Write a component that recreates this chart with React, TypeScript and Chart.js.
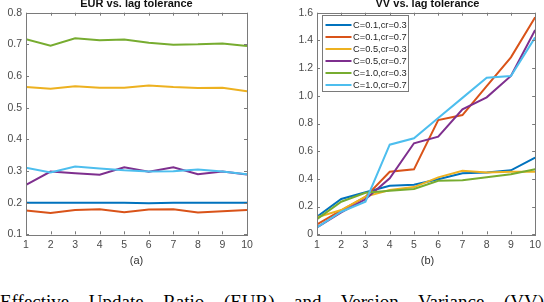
import React, { useEffect, useRef } from 'react';
import { Chart, registerables } from 'chart.js';

Chart.register(...registerables);

// ---------- data ----------
const lagTolerance = [1, 2, 3, 4, 5, 6, 7, 8, 9, 10];
const seriesLabels = ['C=0.1,cr=0.3', 'C=0.1,cr=0.7', 'C=0.5,cr=0.3', 'C=0.5,cr=0.7', 'C=1.0,cr=0.3', 'C=1.0,cr=0.7'];
const seriesColors = ['#0072BD', '#D95319', '#EDB120', '#7E2F8E', '#77AC30', '#4DBEEE'];

// EUR vs. lag tolerance
const eurC01cr03 = [0.2, 0.2, 0.2, 0.2, 0.2, 0.198, 0.2, 0.2, 0.2, 0.2];
const eurC01cr07 = [0.175, 0.167, 0.177, 0.179, 0.17, 0.178, 0.179, 0.169, 0.173, 0.177];
const eurC05cr03 = [0.565, 0.56, 0.568, 0.563, 0.563, 0.57, 0.565, 0.562, 0.563, 0.552];
const eurC05cr07 = [0.256, 0.298, 0.293, 0.288, 0.312, 0.298, 0.312, 0.29, 0.298, 0.289];
const eurC10cr03 = [0.716, 0.696, 0.719, 0.713, 0.715, 0.705, 0.699, 0.7, 0.703, 0.695];
const eurC10cr07 = [0.31, 0.295, 0.314, 0.308, 0.302, 0.298, 0.299, 0.305, 0.298, 0.29];

// VV vs. lag tolerance
const vvC01cr03 = [0.127, 0.255, 0.303, 0.351, 0.358, 0.397, 0.44, 0.447, 0.462, 0.553];
const vvC01cr07 = [0.072, 0.172, 0.27, 0.452, 0.469, 0.825, 0.861, 1.07, 1.278, 1.567];
const vvC05cr03 = [0.122, 0.175, 0.272, 0.32, 0.341, 0.411, 0.459, 0.447, 0.452, 0.452];
const vvC05cr07 = [0.05, 0.158, 0.253, 0.404, 0.657, 0.705, 0.902, 0.989, 1.143, 1.475];
const vvC10cr03 = [0.11, 0.235, 0.3, 0.315, 0.327, 0.387, 0.39, 0.412, 0.433, 0.469];
const vvC10cr07 = [0.05, 0.163, 0.235, 0.647, 0.693, 0.84, 0.985, 1.131, 1.143, 1.422];

const eurSeries = [eurC01cr03, eurC01cr07, eurC05cr03, eurC05cr07, eurC10cr03, eurC10cr07];
const vvSeries = [vvC01cr03, vvC01cr07, vvC05cr03, vvC05cr07, vvC10cr03, vvC10cr07];

const eurYRange = [0.1, 0.8];
const eurYStep = 0.1;
const vvYRange = [0, 1.6];
const vvYStep = 0.2;

const eurTitle = 'EUR vs. lag tolerance';
const vvTitle = 'VV vs. lag tolerance';
const captionText = 'Effective Update Ratio (EUR) and Version Variance (VV)';

// ---------- style ----------
const FONT = '"Liberation Sans", Arial, Helvetica, sans-serif';
const AXIS_COLOR = '#7a7a7a';
const LABEL_COLOR = '#4a4a4a';

const boxPlugin = {
  id: 'matlabBox',
  afterDatasetsDraw(chart: any) {
    const { ctx, chartArea } = chart;
    const { left, right, top, bottom } = chartArea;
    const tl = 3;
    ctx.save();
    ctx.strokeStyle = AXIS_COLOR;
    ctx.lineWidth = 1;
    ctx.beginPath();
    const xs = chart.scales.x;
    xs.ticks.forEach((t: any) => {
      const p = Math.round(xs.getPixelForValue(t.value)) + 0.5;
      ctx.moveTo(p, bottom);
      ctx.lineTo(p, bottom - tl);
      ctx.moveTo(p, top);
      ctx.lineTo(p, top + tl);
    });
    const ys = chart.scales.y;
    ys.ticks.forEach((t: any) => {
      const p = Math.round(ys.getPixelForValue(t.value)) + 0.5;
      ctx.moveTo(left, p);
      ctx.lineTo(left + tl, p);
      ctx.moveTo(right, p);
      ctx.lineTo(right - tl, p);
    });
    ctx.stroke();
    ctx.strokeRect(Math.round(left) + 0.5, Math.round(top) + 0.5, Math.round(right - left), Math.round(bottom - top));
    ctx.restore();
  },
};

const legendPlugin = {
  id: 'matlabLegend',
  afterDraw(chart: any) {
    if (!chart.options.plugins.matlabLegend?.show) return;
    const { ctx, chartArea } = chart;
    const x0 = Math.round(chartArea.left + 5) + 0.5;
    const y0 = Math.round(chartArea.top + 2) + 0.5;
    const w = 86;
    const rowH = 12;
    const ds = chart.data.datasets;
    const h = ds.length * rowH + 4;
    ctx.save();
    ctx.fillStyle = '#ffffff';
    ctx.fillRect(x0, y0, w, h);
    ctx.strokeStyle = AXIS_COLOR;
    ctx.lineWidth = 1;
    ctx.strokeRect(x0, y0, w, h);
    ctx.font = `9.3px ${FONT}`;
    ctx.textBaseline = 'middle';
    ctx.textAlign = 'left';
    ds.forEach((d: any, i: number) => {
      const cy = y0 + 9.5 + i * rowH;
      ctx.strokeStyle = d.borderColor;
      ctx.lineWidth = 2;
      ctx.beginPath();
      ctx.moveTo(x0 + 3, cy);
      ctx.lineTo(x0 + 29, cy);
      ctx.stroke();
      ctx.fillStyle = '#262626';
      ctx.fillText(d.label, x0 + 30.5, cy + 0.5);
    });
    ctx.restore();
  },
};

function makeConfig(series: number[][], yRange: number[], yStep: number, yAxisWidth: number, padRight: number, showLegend: boolean): any {
  return {
    type: 'line',
    data: {
      datasets: series.map((vals, i) => ({
        label: seriesLabels[i],
        data: vals.map((v, j) => ({ x: lagTolerance[j], y: v })),
        borderColor: seriesColors[i],
        backgroundColor: seriesColors[i],
        borderWidth: 2,
        pointRadius: 0,
        tension: 0,
        fill: false,
        order: series.length - i,
      })),
    },
    options: {
      animation: false,
      responsive: false,
      devicePixelRatio: 1,
      layout: { padding: { top: 12.7, right: padRight, left: 0, bottom: 0 } },
      plugins: {
        legend: { display: false },
        tooltip: { enabled: false },
        title: { display: false },
        matlabLegend: { show: showLegend },
      },
      scales: {
        x: {
          type: 'linear',
          min: lagTolerance[0],
          max: lagTolerance[lagTolerance.length - 1],
          grid: { display: false, drawTicks: false },
          border: { display: false },
          ticks: { stepSize: 1, color: LABEL_COLOR, font: { family: FONT, size: 10.5 }, padding: 5, maxRotation: 0 },
          afterFit: (s: any) => { s.height = 27.7; },
        },
        y: {
          type: 'linear',
          min: yRange[0],
          max: yRange[1],
          grid: { display: false, drawTicks: false },
          border: { display: false },
          ticks: { stepSize: yStep, color: LABEL_COLOR, font: { family: FONT, size: 10.5 }, padding: 4 },
          afterFit: (s: any) => { s.width = yAxisWidth; },
        },
      },
    },
    plugins: [boxPlugin, legendPlugin],
  };
}

function ChartCanvas(props: { config: () => any; left: number; width: number; height: number }) {
  const ref = useRef<HTMLCanvasElement | null>(null);
  useEffect(() => {
    if (!ref.current) return;
    const chart = new Chart(ref.current, props.config());
    return () => chart.destroy();
  }, []);
  return (
    <canvas
      ref={ref}
      width={props.width}
      height={props.height}
      style={{ position: 'absolute', left: props.left, top: 0, width: props.width, height: props.height }}
    />
  );
}

const textBase: React.CSSProperties = {
  position: 'absolute',
  fontFamily: FONT,
  textAlign: 'center',
  whiteSpace: 'nowrap',
  lineHeight: 'normal',
};

export default function App() {
  return (
    <div style={{ position: 'absolute', left: 0, top: 0, width: 544, height: 302, overflow: 'hidden', background: '#fff' }}>
      <ChartCanvas left={0} width={262} height={262} config={() => makeConfig(eurSeries, eurYRange, eurYStep, 26, 15, false)} />
      <ChartCanvas left={272} width={274} height={262} config={() => makeConfig(vvSeries, vvYRange, vvYStep, 45, 8, true)} />
      <div style={{ ...textBase, left: 26, width: 221, top: -3.3, fontSize: 11, fontWeight: 'bold', color: '#111' }}>{eurTitle}</div>
      <div style={{ ...textBase, left: 317, width: 221, top: -3.3, fontSize: 11, fontWeight: 'bold', color: '#111' }}>{vvTitle}</div>
      <div style={{ ...textBase, left: 26, width: 221, top: 253.7, fontSize: 11, color: '#333' }}>(a)</div>
      <div style={{ ...textBase, left: 317, width: 221, top: 253.7, fontSize: 11, color: '#333' }}>(b)</div>
      <div
        style={{
          position: 'absolute',
          left: 0,
          width: 544,
          top: 291,
          fontFamily: '"Liberation Serif", "Times New Roman", serif',
          fontSize: 19,
          lineHeight: 'normal',
          textAlign: 'justify',
          textAlignLast: 'justify',
          color: '#000',
          whiteSpace: 'nowrap',
        } as React.CSSProperties}
      >
        {captionText}
      </div>
    </div>
  );
}
